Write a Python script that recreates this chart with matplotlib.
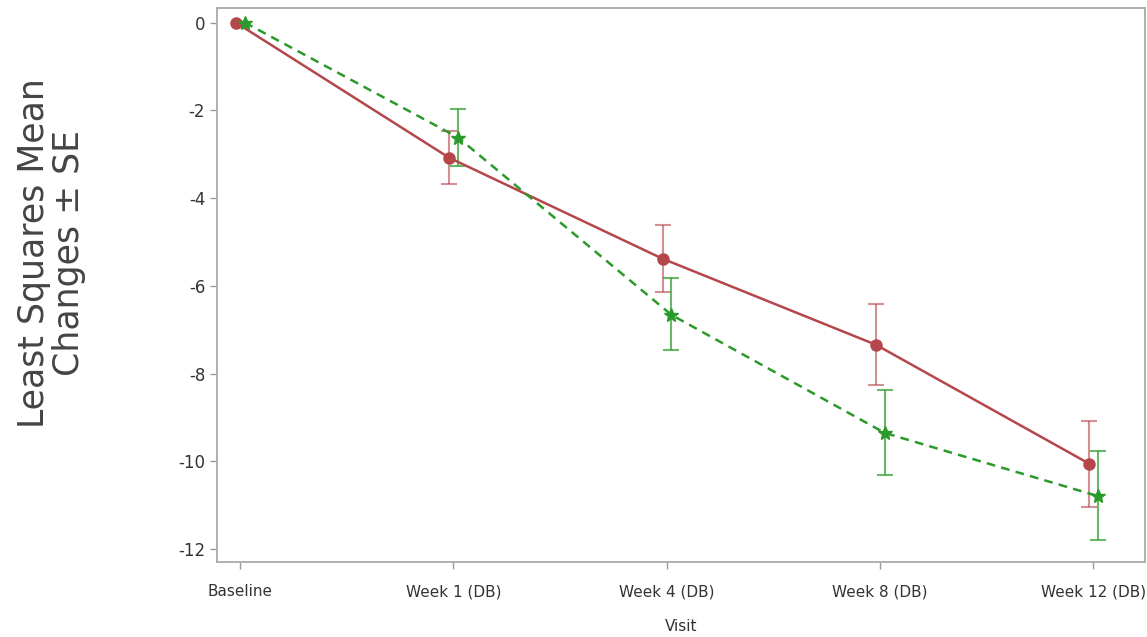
import matplotlib.pyplot as plt
import numpy as np

visits = ['Baseline', 'Week 1 (DB)', 'Week 4 (DB)', 'Week 8 (DB)', 'Week 12 (DB)']

red_mean = [0.0, -3.08, -5.38, -7.34, -10.05]
red_upper = [0.0, -2.48, -4.61, -6.42, -9.08]
red_lower = [0.0, -3.68, -6.13, -8.25, -11.03]

green_mean = [0.0, -2.62, -6.66, -9.35, -10.79]
green_upper = [0.0, -1.97, -5.83, -8.38, -9.76]
green_lower = [0.0, -3.27, -7.45, -10.31, -11.78]

red_col = '#b5474b'
green_col = '#2a9a2a'

fig = plt.figure(figsize=(11.47, 6.37), dpi=100)
ax = fig.add_axes([0.1892, 0.1177, 0.8088, 0.8697])

x = np.arange(len(visits))
xr = x - 0.02
xg = x + 0.022

rm = np.array(red_mean)
gm = np.array(green_mean)
r_err = [rm - np.array(red_lower), np.array(red_upper) - rm]
g_err = [gm - np.array(green_lower), np.array(green_upper) - gm]

# error bars (skip baseline, it has none)
ax.errorbar(xr[1:], rm[1:], yerr=[r_err[0][1:], r_err[1][1:]], fmt='none',
            ecolor=red_col, alpha=0.6, elinewidth=1.5, capsize=5.5, capthick=1.5, zorder=2)
ax.errorbar(xg[1:], gm[1:], yerr=[g_err[0][1:], g_err[1][1:]], fmt='none',
            ecolor=green_col, alpha=0.7, elinewidth=1.5, capsize=5.5, capthick=1.5, zorder=2)

ax.plot(xr, rm, color=red_col, lw=1.8, marker='o', ms=8, mec=red_col, mfc=red_col, zorder=3)
ax.plot(xg, gm, color=green_col, lw=1.8, ls=(0, (3.5, 2.5)), marker='*', ms=10,
        mec=green_col, mfc=green_col, zorder=4)

ax.set_xlim(-0.108, 4.24)
ax.set_ylim(-12.29, 0.33)
ax.set_xticks(x)
ax.set_xticklabels(visits, fontsize=11, family='Liberation Sans Narrow', color='#333333')
ax.set_yticks([0, -2, -4, -6, -8, -10, -12])
ax.set_yticklabels(['0', '-2', '-4', '-6', '-8', '-10', '-12'],
                   fontsize=12, family='Liberation Sans Narrow', color='#333333')
ax.tick_params(axis='both', color='#999999', length=5, width=1)
ax.tick_params(axis='x', pad=11)
for s in ax.spines.values():
    s.set_color('#aaaaaa')
    s.set_linewidth(1.3)

ax.set_xlabel('Visit', fontsize=11, family='Liberation Sans Narrow', color='#333333', labelpad=14)
fig.text(0.045, 0.603, 'Least Squares Mean\nChanges \u00b1 SE', rotation=90, ha='center', va='center',
         fontsize=25, color='#444444', family='DejaVu Sans', linespacing=1.05)

fig.savefig('out.png', dpi=100)
